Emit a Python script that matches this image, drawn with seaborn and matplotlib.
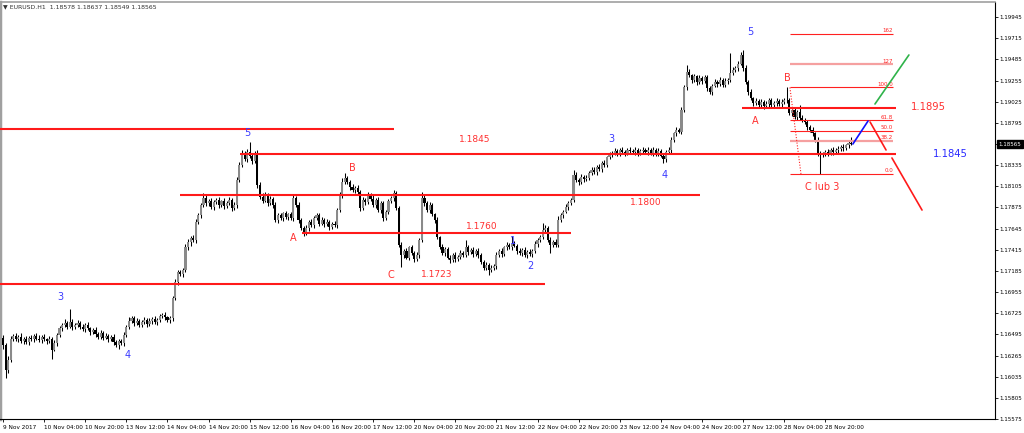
import matplotlib

matplotlib.use("Agg")

import matplotlib.pyplot as plt  # noqa: E402
import numpy as np  # noqa: E402
import seaborn as sns  # noqa: E402
from matplotlib.transforms import blended_transform_factory  # noqa: E402

# prices are kept in pips above BASE
BASE = 1.16
PIP = 0.0001

first_open = 46
close_pips = [
    38, 11, 22, 45, 48, 44, 47, 42, 45, 41,
    46, 44, 48, 45, 43, 47, 44, 42, 45, 33,
    40, 49, 56, 60, 62, 58, 63, 57, 60, 62,
    58, 55, 60, 56, 52, 54, 50, 47, 51, 46,
    48, 44, 47, 41, 38, 42, 40, 49, 58, 64,
    67, 62, 64, 60, 63, 65, 61, 64, 66, 63,
    65, 69, 71, 68, 65, 67, 89, 106, 117, 115,
    119, 144, 150, 154, 152, 172, 179, 190, 198, 192,
    195, 188, 193, 196, 190, 194, 189, 192, 196, 187,
    190, 217, 234, 245, 240, 248, 243, 238, 246, 212,
    199, 195, 201, 192, 197, 190, 174, 179, 176, 181,
    177, 180, 176, 198, 190, 174, 165, 160, 165, 172,
    168, 176, 179, 170, 174, 169, 172, 166, 170, 168,
    185, 201, 215, 219, 215, 210, 206, 209, 204, 187,
    196, 193, 201, 197, 190, 196, 185, 192, 176, 183,
    194, 198, 203, 187, 147, 136, 140, 133, 144, 138,
    131, 136, 152, 198, 192, 185, 190, 180, 174, 155,
    145, 138, 142, 133, 130, 136, 131, 134, 138, 136,
    144, 139, 141, 137, 140, 136, 128, 122, 125, 120,
    122, 124, 136, 140, 137, 144, 147, 144, 148, 146,
    140, 138, 141, 136, 139, 137, 140, 148, 152, 155,
    163, 165, 152, 147, 150, 147, 174, 179, 183, 188,
    192, 196, 223, 217, 215, 221, 218, 220, 225, 228,
    226, 232, 229, 236, 234, 242, 245, 247, 249, 247,
    250, 248, 247, 250, 249, 248, 250, 247, 249, 250,
    248, 250, 247, 250, 246, 249, 244, 240, 248, 250,
    261, 268, 272, 270, 293, 318, 335, 331, 326, 330,
    324, 328, 325, 329, 317, 313, 320, 324, 322, 326,
    321, 325, 326, 334, 337, 339, 344, 353, 339, 324,
    313, 306, 301, 303, 299, 302, 298, 300, 304, 299,
    301, 303, 300, 302, 304, 304, 290, 293, 286, 291,
    285, 283, 280, 275, 272, 268, 261, 247, 245, 245,
    248, 247, 250, 248, 250, 251, 253, 252, 255, 257.8, 256.5,
]
upper_wick = [
    3, 2, 4, 3, 2, 3, 2, 4, 2, 3,
    2, 3, 2, 3, 4, 2, 3, 2, 3, 2,
    3, 2, 3, 2, 4, 2, 14, 3, 2, 3,
    2, 3, 2, 3, 2, 2, 3, 2, 3, 2,
    3, 2, 2, 3, 2, 3, 2, 3, 2, 4,
    3, 2, 3, 2, 2, 3, 2, 3, 2, 3,
    2, 3, 2, 3, 2, 3, 2, 4, 3, 2,
    3, 4, 3, 2, 4, 3, 3, 2, 5, 3,
    2, 3, 3, 2, 3, 2, 4, 2, 3, 2,
    3, 4, 3, 5, 4, 3, 11, 4, 3, 4,
    3, 4, 3, 2, 3, 2, 3, 2, 3, 2,
    3, 2, 3, 3, 2, 3, 2, 2, 3, 2,
    3, 2, 3, 2, 3, 2, 3, 2, 2, 3,
    2, 3, 4, 6, 3, 2, 3, 2, 3, 2,
    3, 2, 3, 2, 4, 2, 3, 2, 3, 2,
    3, 2, 3, 2, 2, 3, 2, 3, 2, 3,
    2, 3, 2, 6, 3, 2, 3, 2, 2, 3,
    2, 3, 2, 2, 3, 2, 3, 2, 3, 2,
    8, 3, 2, 3, 2, 3, 2, 2, 3, 2,
    3, 2, 3, 2, 3, 2, 3, 2, 8, 3,
    2, 3, 2, 3, 2, 3, 2, 3, 2, 3,
    8, 3, 2, 3, 2, 3, 4, 3, 2, 3,
    3, 2, 5, 3, 2, 3, 2, 3, 2, 3,
    3, 2, 3, 2, 3, 2, 3, 2, 3, 2,
    2, 3, 2, 2, 3, 2, 3, 2, 2, 3,
    2, 3, 2, 3, 2, 3, 2, 3, 2, 3,
    3, 2, 3, 2, 4, 3, 7, 3, 2, 3,
    2, 3, 2, 3, 2, 3, 2, 3, 2, 3,
    2, 3, 2, 21, 3, 2, 3, 4, 6, 3,
    2, 3, 2, 3, 2, 3, 2, 3, 2, 3,
    2, 3, 2, 3, 2, 14, 3, 2, 4, 3,
    8, 3, 2, 3, 2, 3, 2, 3, 2, 3,
    2, 3, 2, 3, 2, 3, 2, 3, 2, 3, 5.9,
]
lower_wick = [
    4, 9, 3, 2, 3, 2, 3, 2, 3, 2,
    3, 2, 3, 2, 2, 3, 2, 3, 2, 10,
    2, 3, 2, 3, 2, 3, 2, 3, 2, 2,
    3, 2, 3, 2, 3, 2, 3, 2, 2, 3,
    2, 3, 2, 3, 2, 4, 2, 3, 2, 3,
    2, 3, 2, 3, 2, 2, 3, 2, 3, 2,
    3, 2, 2, 3, 2, 3, 3, 2, 3, 2,
    3, 2, 3, 4, 2, 3, 2, 3, 2, 3,
    3, 2, 3, 2, 3, 2, 3, 2, 2, 3,
    2, 3, 2, 3, 2, 3, 2, 3, 2, 3,
    2, 3, 2, 3, 2, 3, 2, 3, 2, 3,
    2, 3, 2, 3, 2, 3, 2, 4, 2, 3,
    2, 3, 2, 3, 2, 3, 2, 3, 2, 2,
    3, 2, 3, 2, 2, 3, 2, 3, 2, 3,
    2, 3, 2, 3, 2, 3, 2, 4, 3, 2,
    3, 2, 3, 2, 3, 13, 3, 2, 3, 2,
    3, 2, 3, 2, 3, 2, 3, 2, 3, 2,
    3, 2, 3, 2, 3, 2, 3, 2, 3, 2,
    2, 3, 2, 3, 2, 3, 2, 3, 2, 6,
    3, 2, 3, 2, 3, 2, 3, 2, 3, 2,
    3, 2, 3, 2, 3, 2, 3, 2, 3, 2,
    2, 3, 2, 9, 3, 2, 3, 2, 3, 2,
    3, 2, 3, 2, 3, 2, 3, 2, 3, 2,
    2, 3, 2, 3, 2, 3, 2, 3, 2, 3,
    3, 2, 3, 2, 3, 2, 3, 4, 2, 3,
    2, 3, 2, 3, 2, 3, 2, 4, 3, 2,
    3, 2, 3, 2, 3, 2, 3, 2, 3, 2,
    3, 2, 3, 2, 3, 2, 3, 2, 3, 2,
    3, 2, 3, 2, 3, 2, 3, 2, 3, 2,
    3, 2, 3, 2, 3, 2, 3, 2, 3, 2,
    2, 3, 2, 3, 2, 3, 2, 3, 2, 3,
    2, 3, 2, 3, 2, 3, 2, 3, 21, 3,
    2, 3, 2, 3, 2, 3, 2, 3, 2, 3, 1.6,
]

time_labels = [
    "9 Nov 2017", "10 Nov 04:00", "10 Nov 20:00", "13 Nov 12:00", "14 Nov 04:00",
    "14 Nov 20:00", "15 Nov 12:00", "16 Nov 04:00", "16 Nov 20:00", "17 Nov 12:00",
    "20 Nov 04:00", "20 Nov 20:00", "21 Nov 12:00", "22 Nov 04:00", "22 Nov 20:00",
    "23 Nov 12:00", "24 Nov 04:00", "24 Nov 20:00", "27 Nov 12:00", "28 Nov 04:00",
    "28 Nov 20:00",
]

# horizontal support / resistance levels and the bars they span
level_prices = [1.1873, 1.1846, 1.1801, 1.1760, 1.1704, 1.18956]
level_spans = [(-1.2, 152.1), (92.2, 347.5), (68.9, 271.2), (116.3, 221.0), (-1.2, 210.9), (287.5, 347.5)]

fib_ratios = [0.0, 38.2, 50.0, 61.8, 100.0, 127.0, 162.0]
fib_labels = ["0.0", "38.2", "50.0", "61.8", "100.0", "127", "162"]
fib_b_bar, fib_c_bar = 305, 318

# projected paths (bar, price)
proj_lines = [
    ([330.7, 336.6], [1.18565, 1.18815], "#1010ff"),
    ([337.4, 343.6], [1.18804, 1.18500], "#ff1a1a"),
    ([345.9, 357.6], [1.18413, 1.17847], "#ff1a1a"),
    ([339.3, 352.5], [1.19000, 1.19533], "#2fb34a"),
]

level_texts = [
    ("1.1845", 183.7, 1.18609, "#ff3030", 6.5),
    ("1.1800", 250.2, 1.17934, "#ff3030", 6.5),
    ("1.1760", 186.4, 1.17673, "#ff3030", 6.5),
    ("1.1723", 168.9, 1.17151, "#ff3030", 6.5),
    ("1.1895", 359.9, 1.18967, "#ff3030", 7.2),
    ("1.1845", 368.5, 1.18456, "#2a2aff", 7.2),
]
wave_texts = [
    ("5", 94.9, 1.18685, "#3a3aff"), ("3", 22.2, 1.16901, "#3a3aff"),
    ("4", 48.6, 1.16271, "#3a3aff"), ("3", 236.6, 1.18620, "#3a3aff"),
    ("4", 257.6, 1.18228, "#3a3aff"), ("1", 198.4, 1.17510, "#3a3aff"),
    ("2", 205.4, 1.17238, "#3a3aff"), ("5", 290.7, 1.19783, "#3a3aff"),
    ("B", 135.8, 1.18304, "#ff3030"), ("A", 112.8, 1.17543, "#ff3030"),
    ("C", 151.0, 1.17140, "#ff3030"), ("A", 292.6, 1.18815, "#ff3030"),
    ("B", 305.4, 1.19283, "#ff3030"), ("C lub 3", 318.7, 1.18097, "#ff3030"),
]

sns.set_theme(style="white")
plt.rcParams["font.family"] = ["DejaVu Sans"]

c = BASE + np.array(close_pips) * PIP
o = np.r_[BASE + first_open * PIP, c[:-1]]
h = np.maximum(o, c) + np.array(upper_wick) * PIP
l = np.minimum(o, c) - np.array(lower_wick) * PIP
bars = np.arange(len(c))

fig = plt.figure(figsize=(10.24, 4.33), dpi=100)
ax = fig.add_axes([0, 14 / 433, 995 / 1024, 417 / 433])
ax.set_facecolor("white")

# candles
ax.vlines(bars, l, h, color="black", lw=0.75, zorder=2)
bull = c >= o
body = np.maximum(np.abs(c - o), 0.4 * PIP)
ax.bar(bars, body, bottom=np.minimum(o, c), width=0.82,
       color=np.where(bull, "#8a8a8a", "#000000"), linewidth=0, zorder=3)

# levels
for price, (x0, x1) in zip(level_prices, level_spans):
    ax.hlines(price, x0, x1, color="#ff1a1a", lw=1.5, zorder=4)

# fibonacci retracement between B high and C low
fib_hi, fib_lo = h[fib_b_bar], l[fib_c_bar]
for r, lab in zip(fib_ratios, fib_labels):
    price = fib_lo + r / 100 * (fib_hi - fib_lo)
    light = lab in ("38.2", "127")
    ax.hlines(price, 306.2, 346.3, color="#f5a0a0" if light else "#ff2020",
              lw=1.6 if light else 0.8, zorder=4)
    ax.text(346.3, price + 0.00006, lab, color="#ff2020", fontsize=4.0,
            ha="right", va="bottom", zorder=5)
ax.plot([306.2, 310.5], [fib_hi, fib_lo], color="#ff2020", lw=0.8, ls=(0, (1, 1.5)), zorder=4)

for xs, ys, col in proj_lines:
    ax.plot(xs, ys, color=col, lw=1.2, zorder=5)

for txt, x, y, col, fs in level_texts:
    ax.text(x, y, txt, color=col, fontsize=fs, ha="center", va="center", zorder=6)
for txt, x, y, col in wave_texts:
    ax.text(x, y, txt, color=col, fontsize=7, ha="center", va="center", zorder=6)

ax.text(0.003, 0.988,
        f"\u25bc EURUSD.H1  {o[-1]:.5f} {h[-1]:.5f} {l[-1]:.5f} {c[-1]:.5f}",
        transform=ax.transAxes, fontsize=4.4, color="#303030", ha="left", va="center")

# axes
ax.set_xlim(-1.17, 386.0)
ax.set_ylim(1.15575, 1.20109)
yt = 1.15575 + 0.0023 * np.arange(20)
ax.yaxis.tick_right()
ax.set_yticks(yt)
ax.set_yticklabels([f"{v:.5f}" for v in yt])
ax.set_xticks(np.arange(len(time_labels)) * 16)
ax.set_xticklabels(time_labels, ha="left")
ax.tick_params(axis="y", which="both", right=True, left=False, length=2, width=0.6,
               pad=1, labelsize=4.0, colors="black", direction="out")
ax.tick_params(axis="x", bottom=True, length=2.5, width=0.6, pad=1.5, labelsize=4.15,
               colors="black", direction="out")
for lab in ax.get_xticklabels():
    lab.set_horizontalalignment("left")
ax.grid(False)

for side in ("right", "bottom"):
    ax.spines[side].set_color("black")
    ax.spines[side].set_linewidth(0.8)
ax.spines["left"].set_color("#a0a0a0")
ax.spines["left"].set_linewidth(2.5)
ax.spines["top"].set_color("#a0a0a0")
ax.spines["top"].set_linewidth(1.2)

# current price box on the scale
for lab in ax.get_yticklabels():
    if lab.get_text() == f"{c[-1]:.5f}":
        lab.set_visible(False)
trans = blended_transform_factory(ax.transAxes, ax.transData)
ax.text(1.0035, c[-1], f"{c[-1]:.5f}", transform=trans, fontsize=4.0, color="white",
        ha="left", va="center",
        bbox=dict(boxstyle="square,pad=0.25", fc="black", ec="black"), clip_on=False)

fig.savefig("out.png", dpi=100)
